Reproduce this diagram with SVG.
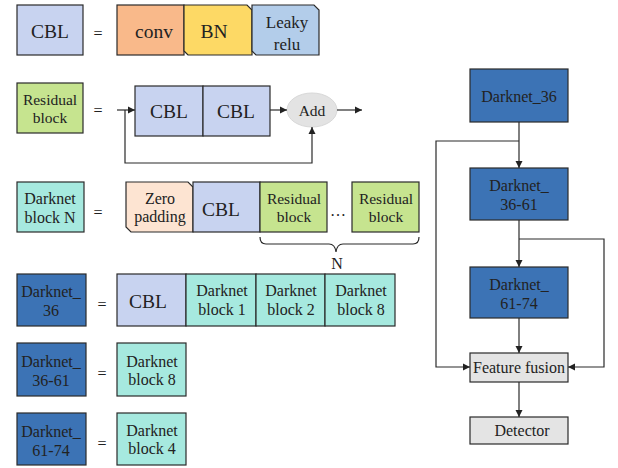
<svg xmlns="http://www.w3.org/2000/svg" width="618" height="468" viewBox="0 0 618 468">
<defs>
<marker id="ah" markerWidth="8" markerHeight="8" refX="7" refY="4" orient="auto" markerUnits="userSpaceOnUse">
<path d="M0,0.5 L7,4 L0,7.5 Z" fill="#222"/>
</marker>
<style>
text{font-family:"Liberation Serif","DejaVu Serif",serif;fill:#222;text-anchor:middle;dominant-baseline:central}
.b{stroke:#2a2a2a;stroke-width:1.2}
.cbl{fill:#c8d3f0}
.conv{fill:#f9b98a}
.bn{fill:#fdd965}
.lr{fill:#b3cdea}
.res{fill:#c6e48f}
.dk{fill:#a6e9df}
.blue{fill:#3c73b5}
.zp{fill:#fde4d2}
.gray{fill:#e4e4e4}
.big{font-size:19.5px}
.m{font-size:16px}
.r{font-size:15.5px}
.l{font-size:17px}
.eq{font-size:16px}
.line{fill:none;stroke:#2a2a2a;stroke-width:1.2}
</style>
</defs>

<!-- Row 1: CBL -->
<g id="cbl-def">
<rect class="b cbl" x="17" y="5" width="66" height="50"/>
<text class="big" x="50" y="31">CBL</text>
</g>
<text class="eq" x="98" y="33">=</text>
<g id="conv">
<rect class="b conv" x="117" y="5" width="67" height="50"/>
<text class="big" x="154" y="31">conv</text>
</g>
<g id="bn">
<path class="b bn" d="M184,5 L247,5 L252,10 L252,55 L188,55 L184,51 Z"/>
<text class="big" x="214" y="31">BN</text>
</g>
<g id="leaky">
<path class="b lr" d="M252,5 L314,5 L319,10 L319,55 L256,55 L252,51 Z"/>
<text class="l" x="287" y="22">Leaky</text>
<text class="l" x="287" y="44">relu</text>
</g>

<!-- Row 2: Residual block -->
<g id="residual-def">
<rect class="b res" x="17" y="83" width="66" height="50"/>
<text class="r" x="50" y="99">Residual</text>
<text class="r" x="50" y="117">block</text>
</g>
<text class="eq" x="98" y="110">=</text>
<g id="res-cbl1">
<rect class="b cbl" x="135" y="86" width="68" height="50"/>
<text class="big" x="169" y="111">CBL</text>
</g>
<g id="res-cbl2">
<rect class="b cbl" x="203" y="86" width="67" height="50"/>
<text class="big" x="236" y="111">CBL</text>
</g>
<g id="add">
<ellipse cx="312" cy="110" rx="25" ry="17" fill="#e3e3e3" stroke="#d8d8d8"/>
<text class="r" x="312" y="110">Add</text>
</g>

<!-- Row 3: Darknet block N -->
<g id="darknet-block-def">
<rect class="b dk" x="17" y="182" width="67" height="50"/>
<text class="m" x="50" y="198">Darknet</text>
<text class="m" x="50" y="217">block N</text>
</g>
<text class="eq" x="98" y="212">=</text>
<g id="zero-padding">
<path class="b zp" d="M126,182 L188,182 L193,187 L193,232 L131,232 L126,227 Z"/>
<text class="m" x="160" y="198">Zero</text>
<text class="m" x="160" y="216">padding</text>
</g>
<g id="dbn-cbl">
<rect class="b cbl" x="193" y="182" width="67" height="50"/>
<text class="big" x="221" y="209">CBL</text>
</g>
<g id="dbn-res1">
<rect class="b res" x="260" y="182" width="67" height="50"/>
<text class="r" x="294" y="198">Residual</text>
<text class="r" x="294" y="216">block</text>
</g>
<text class="m" x="338" y="210">…</text>
<g id="dbn-res2">
<rect class="b res" x="352" y="182" width="67" height="50"/>
<text class="r" x="386" y="198">Residual</text>
<text class="r" x="386" y="216">block</text>
</g>
<path class="line" d="M260,237 Q260,244 266,244 L329,244 Q335,244 336,252 Q337,244 343,244 L413,244 Q419,244 419,237"/>
<text class="m" x="337" y="263">N</text>

<!-- Row 4: Darknet_36 -->
<g id="darknet36-def">
<rect class="b blue" x="17" y="274" width="69" height="52"/>
<text class="m" x="51" y="291">Darknet_</text>
<text class="m" x="51" y="310">36</text>
</g>
<text class="eq" x="102" y="304">=</text>
<g id="d36-cbl">
<rect class="b cbl" x="117" y="274" width="69" height="52"/>
<text class="big" x="148" y="301">CBL</text>
</g>
<g id="d36-b1">
<rect class="b dk" x="186" y="274" width="70" height="52"/>
<text class="m" x="222" y="290">Darknet</text>
<text class="m" x="222" y="309">block 1</text>
</g>
<g id="d36-b2">
<rect class="b dk" x="256" y="274" width="69" height="52"/>
<text class="m" x="291" y="290">Darknet</text>
<text class="m" x="291" y="309">block 2</text>
</g>
<g id="d36-b8">
<rect class="b dk" x="325" y="274" width="70" height="52"/>
<text class="m" x="361" y="290">Darknet</text>
<text class="m" x="361" y="309">block 8</text>
</g>

<!-- Row 5 -->
<g id="darknet3661-def">
<rect class="b blue" x="17" y="343" width="69" height="53"/>
<text class="m" x="51" y="361">Darknet_</text>
<text class="m" x="51" y="380">36-61</text>
</g>
<text class="eq" x="102" y="373">=</text>
<g id="d3661-b8">
<rect class="b dk" x="117" y="343" width="69" height="53"/>
<text class="m" x="152" y="361">Darknet</text>
<text class="m" x="152" y="379">block 8</text>
</g>

<!-- Row 6 -->
<g id="darknet6174-def">
<rect class="b blue" x="17" y="413" width="69" height="52"/>
<text class="m" x="51" y="431">Darknet_</text>
<text class="m" x="51" y="450">61-74</text>
</g>
<text class="eq" x="102" y="443">=</text>
<g id="d6174-b4">
<rect class="b dk" x="117" y="413" width="69" height="52"/>
<text class="m" x="152" y="430">Darknet</text>
<text class="m" x="152" y="448">block 4</text>
</g>

<!-- Right flow -->
<g id="darknet36">
<rect class="b blue" x="470" y="69" width="98" height="53"/>
<text class="m" x="519" y="96">Darknet_36</text>
</g>
<g id="darknet3661">
<rect class="b blue" x="470" y="168" width="98" height="52"/>
<text class="m" x="519" y="185">Darknet_</text>
<text class="m" x="519" y="204">36-61</text>
</g>
<g id="darknet6174">
<rect class="b blue" x="470" y="267" width="98" height="51"/>
<text class="m" x="519" y="284">Darknet_</text>
<text class="m" x="519" y="303">61-74</text>
</g>
<g id="feature-fusion">
<rect class="b gray" x="470" y="353" width="98" height="29"/>
<text class="m" x="519" y="367">Feature fusion</text>
</g>
<g id="detector">
<rect class="b gray" x="470" y="417" width="98" height="27"/>
<text class="m" x="522" y="430">Detector</text>
</g>

<g id="connectors">
<path class="line" d="M117,110 L135,110" marker-end="url(#ah)"/>
<path class="line" d="M125,110 L125,163 L312,163 L312,127" marker-end="url(#ah)"/>
<path class="line" d="M270,110 L287,110" marker-end="url(#ah)"/>
<path class="line" d="M337,110 L362,110" marker-end="url(#ah)"/>
<path class="line" d="M519,122 L519,168" marker-end="url(#ah)"/>
<path class="line" d="M519,141 L436,141 L436,367 L470,367" marker-end="url(#ah)"/>
<path class="line" d="M519,220 L519,267" marker-end="url(#ah)"/>
<path class="line" d="M519,239 L604,239 L604,367 L568,367" marker-end="url(#ah)"/>
<path class="line" d="M519,318 L519,353" marker-end="url(#ah)"/>
<path class="line" d="M519,382 L519,417" marker-end="url(#ah)"/>
</g>
</svg>
